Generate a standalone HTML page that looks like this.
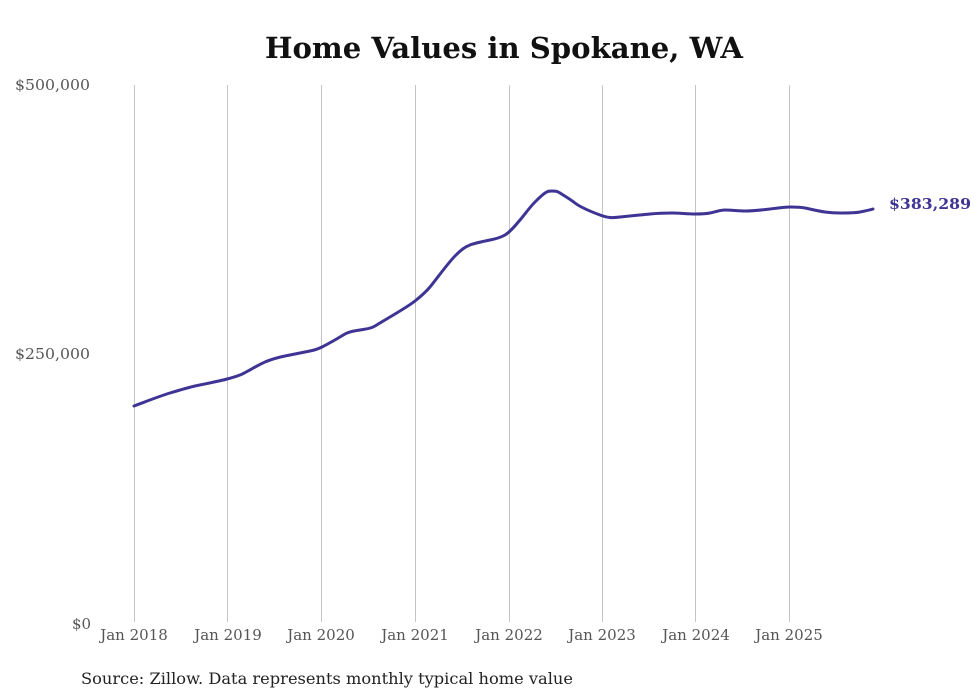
<!DOCTYPE html>
<html><head><meta charset="utf-8"><style>
body{margin:0;background:#fff;}
svg{display:block;font-family:"DejaVu Serif","Liberation Serif",serif;}
</style></head><body>
<svg width="980" height="699" viewBox="0 0 980 699">
<text x="504" y="58" text-anchor="middle" font-size="28.5" font-weight="bold" fill="#111" textLength="478" lengthAdjust="spacingAndGlyphs">Home Values in Spokane, WA</text>
<g stroke="#c4c4c4" stroke-width="1">
<line x1="134.5" y1="85" x2="134.5" y2="622"/>
<line x1="227.5" y1="85" x2="227.5" y2="622"/>
<line x1="321.5" y1="85" x2="321.5" y2="622"/>
<line x1="415.5" y1="85" x2="415.5" y2="622"/>
<line x1="509.5" y1="85" x2="509.5" y2="622"/>
<line x1="602.5" y1="85" x2="602.5" y2="622"/>
<line x1="695.5" y1="85" x2="695.5" y2="622"/>
<line x1="789.5" y1="85" x2="789.5" y2="622"/>
</g>
<g font-size="15" fill="#555">
<text x="15" y="90" textLength="75" lengthAdjust="spacingAndGlyphs">$500,000</text>
<text x="15" y="359" textLength="75" lengthAdjust="spacingAndGlyphs">$250,000</text>
<text x="72" y="629">$0</text>
</g>
<g font-size="15" fill="#555" text-anchor="middle">
<text x="134" y="640">Jan 2018</text>
<text x="228" y="640">Jan 2019</text>
<text x="321" y="640">Jan 2020</text>
<text x="415" y="640">Jan 2021</text>
<text x="509" y="640">Jan 2022</text>
<text x="602" y="640">Jan 2023</text>
<text x="696" y="640">Jan 2024</text>
<text x="789" y="640">Jan 2025</text>
</g>
<path fill="none" stroke="#3d3494" stroke-width="3" stroke-linejoin="round" stroke-linecap="round"
d="M134,406 C150,400 160,396 170,393 S190,387 195,386 S220,381 227,379 S235,377 240,375 S258,365 265,362 S280,357 285,356 S305,352 310,351 S318,349 322,347 S340,337 345,334 S355,331 360,330 S370,329 375,326 S390,317 395,314 S410,305 415,301 S425,293 430,287 S448,263 455,256 S465,247 470,245 S485,241 490,240 S500,238 505,235 S515,226 520,220 S530,207 535,202 S542,195 545,193 S549,191 552,191 S557,191 560,193 S570,199 575,203 S592,212 600,215 S612,218 620,217 S640,215 650,214 S665,213 672,213 S688,214 695,214 S705,214 710,213 S720,210 725,210 S740,211 745,211 S762,210 770,209 S785,207 790,207 S800,207 805,208 S818,211 825,212 S835,213 840,213 S855,213 860,212 S870,210 873,209"/>
<text x="889" y="209" font-size="15" font-weight="bold" fill="#3d3494" textLength="82" lengthAdjust="spacingAndGlyphs">$383,289</text>
<text x="81" y="684" font-size="16" fill="#222" textLength="492" lengthAdjust="spacingAndGlyphs">Source: Zillow. Data represents monthly typical home value</text>
</svg>
</body></html>
